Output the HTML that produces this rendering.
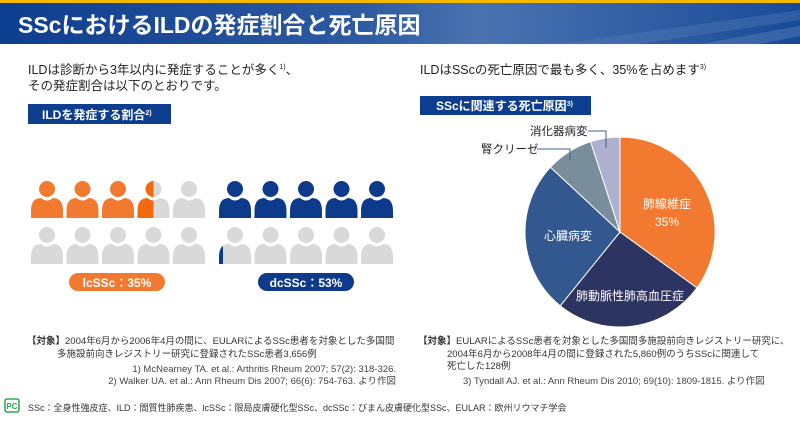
<!DOCTYPE html><html><head><meta charset="utf-8"><style>
body{margin:0;width:800px;height:416px;overflow:hidden;background:#fff;font-family:"Liberation Sans","Noto Sans CJK JP",sans-serif;}
text{font-family:"Liberation Sans","Noto Sans CJK JP",sans-serif;}
</style></head><body>
<svg width="800" height="416" xmlns="http://www.w3.org/2000/svg">
<defs>
<linearGradient id="hg" x1="0" x2="1"><stop offset="0" stop-color="#0d3d8e"/><stop offset="0.45" stop-color="#2d5aa0"/><stop offset="0.6" stop-color="#4a73b0"/><stop offset="1" stop-color="#1a4a98"/></linearGradient>
<symbol id="p" viewBox="0 0 32 37"><circle cx="16" cy="8" r="8"/><path d="M0 37 V30 Q0 17 10 17 Q16 22 22 17 Q32 17 32 30 V37Z"/></symbol>
<clipPath id="h1"><rect x="0" y="0" width="16" height="37"/></clipPath>
<clipPath id="h2"><rect x="0" y="0" width="4" height="37"/></clipPath>
</defs>
<rect x="0" y="0" width="800" height="3" fill="#f5b800"/>
<rect x="0" y="3" width="800" height="41" fill="url(#hg)"/>
<polygon points="560,44 800,10 800,20 640,44" fill="#5a82bb" opacity="0.35"/>
<polygon points="700,44 800,26 800,36 760,44" fill="#6a90c5" opacity="0.35"/>
<text x="18" y="33" font-size="23" font-weight="bold" fill="#fff">SScにおけるILDの発症割合と死亡原因</text>

<text x="28" y="74" font-size="12.5" fill="#222">ILDは診断から3年以内に発症することが多く<tspan font-size="7" dy="-5">1)</tspan><tspan dy="5">、</tspan></text>
<text x="28" y="90" font-size="12.5" fill="#222">その発症割合は以下のとおりです。</text>
<rect x="28" y="104" width="143" height="20" fill="#0d3d8e"/>
<text x="42" y="119" font-size="12" font-weight="bold" fill="#fff">ILDを発症する割合<tspan font-size="7" dy="-4">2)</tspan></text>

<text x="420" y="74" font-size="12.5" fill="#222">ILDはSScの死亡原因で最も多く、35%を占めます<tspan font-size="7" dy="-5">3)</tspan></text>
<rect x="420" y="96" width="171" height="19" fill="#0d3d8e"/>
<text x="436" y="110" font-size="12" font-weight="bold" fill="#fff">SScに関連する死亡原因<tspan font-size="7" dy="-4">3)</tspan></text>

<!-- people left -->
<g fill="#f27a30">
<use href="#p" x="31" y="181" width="32" height="37"/>
<use href="#p" x="66.5" y="181" width="32" height="37"/>
<use href="#p" x="102" y="181" width="32" height="37"/>
</g>
<use href="#p" x="137.5" y="181" width="32" height="37" fill="#d9d9d9"/>
<svg x="137.5" y="181" width="32" height="37" viewBox="0 0 32 37"><g clip-path="url(#h1)"><use href="#p" width="32" height="37" fill="#f26a10"/></g></svg>
<use href="#p" x="173" y="181" width="32" height="37" fill="#d9d9d9"/>
<g fill="#d9d9d9">
<use href="#p" x="31" y="227" width="32" height="37"/>
<use href="#p" x="66.5" y="227" width="32" height="37"/>
<use href="#p" x="102" y="227" width="32" height="37"/>
<use href="#p" x="137.5" y="227" width="32" height="37"/>
<use href="#p" x="173" y="227" width="32" height="37"/>
</g>
<!-- people right -->
<g fill="#0d3a8a">
<use href="#p" x="219" y="181" width="32" height="37"/>
<use href="#p" x="254.5" y="181" width="32" height="37"/>
<use href="#p" x="290" y="181" width="32" height="37"/>
<use href="#p" x="325.5" y="181" width="32" height="37"/>
<use href="#p" x="361" y="181" width="32" height="37"/>
</g>
<g fill="#d9d9d9">
<use href="#p" x="219" y="227" width="32" height="37"/>
<use href="#p" x="254.5" y="227" width="32" height="37"/>
<use href="#p" x="290" y="227" width="32" height="37"/>
<use href="#p" x="325.5" y="227" width="32" height="37"/>
<use href="#p" x="361" y="227" width="32" height="37"/>
</g>
<svg x="219" y="227" width="32" height="37" viewBox="0 0 32 37"><g clip-path="url(#h2)"><use href="#p" width="32" height="37" fill="#0d3a8a"/></g></svg>

<rect x="69" y="273" width="96" height="18" rx="9" fill="#f27a30"/>
<text x="117" y="287" font-size="12" font-weight="bold" fill="#fff" text-anchor="middle">lcSSc：35%</text>
<rect x="258" y="273" width="96" height="18" rx="9" fill="#0d3a8a"/>
<text x="306" y="287" font-size="12" font-weight="bold" fill="#fff" text-anchor="middle">dcSSc：53%</text>

<!-- pie -->
<g stroke="#fff" stroke-width="1">
<path d="M620 232 L620 137 A95 95 0 0 1 696.9 287.9Z" fill="#f27a30"/>
<path d="M620 232 L696.9 287.9 A95 95 0 0 1 560.2 305.8Z" fill="#2d3461"/>
<path d="M620 232 L560.2 305.8 A95 95 0 0 1 550.5 167.2Z" fill="#33578f"/>
<path d="M620 232 L550.5 167.2 A95 95 0 0 1 590.6 141.7Z" fill="#7a8d9b"/>
<path d="M620 232 L590.6 141.7 A95 95 0 0 1 620 137Z" fill="#aeb0cf"/>
</g>
<text x="667" y="208" font-size="12" fill="#fff" text-anchor="middle">肺線維症</text>
<text x="667" y="226" font-size="12" fill="#fff" text-anchor="middle">35%</text>
<text x="568" y="240" font-size="12" fill="#fff" text-anchor="middle">心臓病変</text>
<text x="630" y="300" font-size="12" fill="#fff" text-anchor="middle">肺動脈性肺高血圧症</text>
<text x="481" y="153" font-size="11.5" fill="#222">腎クリーゼ</text>
<text x="530" y="135" font-size="11.5" fill="#222">消化器病変</text>
<polyline points="537,149 570,149 570,160" fill="none" stroke="#3a5f9a" stroke-width="1"/>
<polyline points="588,131 606,131 606,148" fill="none" stroke="#3a5f9a" stroke-width="1"/>

<!-- notes -->
<g font-size="9.5" fill="#333">
<text x="27" y="344"><tspan font-weight="bold">【対象】</tspan>2004年6月から2006年4月の間に、EULARによるSSc患者を対象とした多国間</text>
<text x="57" y="357">多施設前向きレジストリー研究に登録されたSSc患者3,656例</text>
<text x="396" y="372" text-anchor="end" fill="#444">1) McNearney TA. et al.: Arthritis Rheum 2007; 57(2): 318-326.</text>
<text x="396" y="384" text-anchor="end" fill="#444">2) Walker UA. et al.: Ann Rheum Dis 2007; 66(6): 754-763. より作図</text>
<text x="418" y="344"><tspan font-weight="bold">【対象】</tspan>EULARによるSSc患者を対象とした多国間多施設前向きレジストリー研究に、</text>
<text x="447" y="357">2004年6月から2008年4月の間に登録された5,860例のうちSScに関連して</text>
<text x="447" y="369">死亡した128例</text>
<text x="463" y="384" fill="#444">3) Tyndall AJ. et al.: Ann Rheum Dis 2010; 69(10): 1809-1815. より作図</text>
</g>
<rect x="5" y="399" width="14" height="13" rx="2" fill="#fff" stroke="#2aa84a" stroke-width="1.5"/>
<text x="12" y="409" font-size="8" font-weight="bold" fill="#2aa84a" text-anchor="middle">PC</text>
<text x="28" y="411" font-size="9" fill="#333">SSc：全身性強皮症、ILD：間質性肺疾患、lcSSc：限局皮膚硬化型SSc、dcSSc：びまん皮膚硬化型SSc、EULAR：欧州リウマチ学会</text>
</svg>
</body></html>
